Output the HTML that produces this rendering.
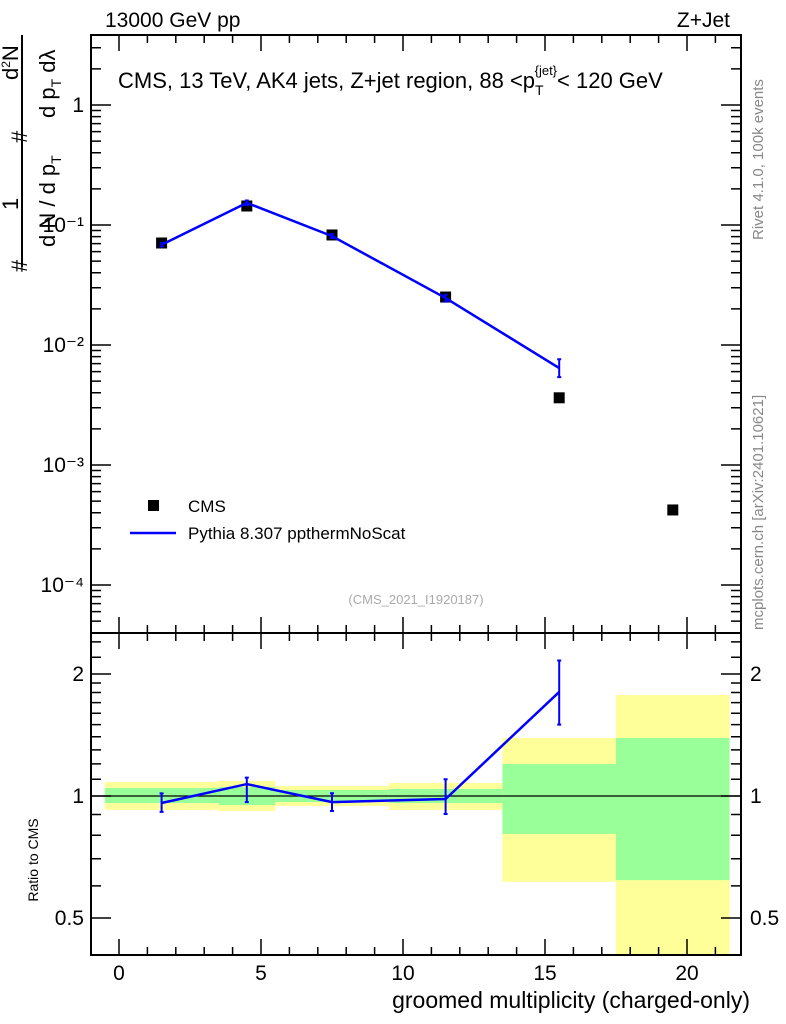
<!DOCTYPE html>
<html><head><meta charset="utf-8"><style>
body{margin:0;background:#fff;}
svg{display:block;font-family:"Liberation Sans",sans-serif;}
</style></head><body>
<svg id="c" width="786" height="1024" xmlns="http://www.w3.org/2000/svg">
<text x="105" y="27" font-size="21">13000 GeV pp</text>
<text x="730" y="27" font-size="21" text-anchor="end">Z+Jet</text>
<text x="118" y="88" font-size="22">CMS, 13 TeV, AK4 jets, Z+jet region, 88 &lt;p<tspan font-size="14" dy="7">T</tspan><tspan font-size="13" dy="-20" dx="-9">{jet}</tspan><tspan dy="13">&lt; 120 GeV</tspan></text>
<text transform="translate(763,240) rotate(-90)" font-size="15" fill="#888">Rivet 4.1.0,  100k events</text>
<text transform="translate(763,630) rotate(-90)" font-size="15" fill="#888">mcplots.cern.ch [arXiv:2401.10621]</text>
<text x="416" y="604" font-size="13" fill="#aaa" text-anchor="middle">(CMS_2021_I1920187)</text>
<g font-size="22">
<text transform="translate(27,272) rotate(-90)">#</text>
<text transform="translate(18,210) rotate(-90)">1</text>
<rect x="21" y="35" width="2" height="232" fill="#000"/>
<text transform="translate(55,247) rotate(-90)">d N / d p<tspan font-size="14" dy="6">T</tspan></text>
<text transform="translate(27,143) rotate(-90)">#</text>
<text transform="translate(18,80) rotate(-90)">d<tspan font-size="12" dy="-8">2</tspan><tspan dy="8">N</tspan></text>
<text transform="translate(55,118) rotate(-90)">d p<tspan font-size="14" dy="6">T</tspan><tspan dy="-6">  dλ</tspan></text>
</g>
<text transform="translate(38,860) rotate(-90)" font-size="14" text-anchor="middle">Ratio to CMS</text>
<text x="750" y="1008" font-size="23" text-anchor="end">groomed multiplicity (charged-only)</text>
<g id="bands"></g><g id="main"></g><g id="axes"></g>
<g>
<rect x="148" y="500" width="11" height="11" fill="#000"/>
<text x="188" y="512" font-size="17">CMS</text>
<line x1="130" y1="533" x2="176" y2="533" stroke="#00f" stroke-width="2.5"/>
<text x="188" y="539" font-size="17">Pythia 8.307 ppthermNoScat</text>
</g>
</svg>
<script>
const xCenters=[1.5,4.5,7.5,11.5,15.5,19.5];
const binEdges=[-0.5,3.5,5.5,9.5,13.5,17.5,21.5];
const cmsValues=[0.0708,0.144,0.0826,0.0251,0.00363,0.000422];
const mcValues=[0.0684,0.153,0.0808,0.0246,0.00643];
const mcErrLo=[0.0660,0.146,0.0780,0.0230,0.0054];
const mcErrHi=[0.0710,0.160,0.0840,0.0262,0.0076];
const ratioValues=[0.961,1.07,0.966,0.983,1.806];
const ratioErrLo=[0.914,0.966,0.918,0.903,1.50];
const ratioErrHi=[1.015,1.11,1.016,1.10,2.16];
const statLo=[0.961,0.950,0.966,0.961,0.806,0.62];
const statHi=[1.046,1.052,1.035,1.041,1.199,1.39];
const totLo=[0.924,0.918,0.945,0.924,0.614,0.40];
const totHi=[1.083,1.089,1.058,1.077,1.39,1.775];
const mainTicks=["1","10⁻¹","10⁻²","10⁻³","10⁻⁴"];
const ratioTicks=[2,1,0.5];
const xTicks=[0,5,10,15,20];
const NS="http://www.w3.org/2000/svg";
const L=91,R=741,T=35,MB=633,RB=955;
const X=v=>119+(v)*28.4;
const Y=v=>105-Math.log10(v)*120;
const YR=v=>796-Math.log2(v)*122;
function mk(p,t,a){const e=document.createElementNS(NS,t);for(const k in a)e.setAttribute(k,a[k]);document.getElementById(p).appendChild(e);return e;}
for(let i=0;i<6;i++){
 const x1=X(binEdges[i]),x2=X(binEdges[i+1]);
 const clip=v=>Math.max(MB,Math.min(RB,v));
 let e=mk('bands','rect',{x:x1,y:clip(YR(totHi[i])),width:x2-x1,height:clip(YR(totLo[i]))-clip(YR(totHi[i])),fill:'#ffff99'});
 
 
 e=mk('bands','rect',{x:x1,y:clip(YR(statHi[i])),width:x2-x1,height:clip(YR(statLo[i]))-clip(YR(statHi[i])),fill:'#99ff99'});
 
 
}
let e=mk('bands','line',{x1:L,x2:R,y1:YR(1),y2:YR(1),stroke:'#000','stroke-width':1.2});


cmsValues.forEach((v,i)=>{const m=mk('main','rect',{x:X(xCenters[i])-5.5,y:Y(v)-5.5,width:11,height:11,fill:'#000'});
 
 });
let pts=mcValues.map((v,i)=>X(xCenters[i])+','+Y(v)).join(' ');
e=mk('main','polyline',{points:pts,fill:'none',stroke:'#00f','stroke-width':2.5});


mcValues.forEach((v,i)=>{const x=X(xCenters[i]);const g=mk('main','path',{d:`M${x},${Y(mcErrLo[i])}V${Y(mcErrHi[i])}M${x-2},${Y(mcErrLo[i])}h4M${x-2},${Y(mcErrHi[i])}h4`,stroke:'#00f','stroke-width':2});
 
 });
pts=ratioValues.map((v,i)=>X(xCenters[i])+','+YR(v)).join(' ');
e=mk('main','polyline',{points:pts,fill:'none',stroke:'#00f','stroke-width':2.5});


ratioValues.forEach((v,i)=>{const x=X(xCenters[i]);const g=mk('main','path',{d:`M${x},${YR(ratioErrLo[i])}V${YR(ratioErrHi[i])}M${x-2},${YR(ratioErrLo[i])}h4M${x-2},${YR(ratioErrHi[i])}h4`,stroke:'#00f','stroke-width':2});
 
 });
e=mk('axes','rect',{x:L,y:T,width:R-L,height:MB-T,fill:'none',stroke:'#000','stroke-width':2});


e=mk('axes','rect',{x:L,y:MB,width:R-L,height:RB-MB,fill:'none',stroke:'#000','stroke-width':2});


let d='';
for(let v=-1;v<=22;v++){const x=X(v);if(x<=L||x>=R)continue;const major=v%5==0;const len=major?16:8;
 d+=`M${x},${MB}v${-len}M${x},${T}v${len}M${x},${RB}v${-len}M${x},${MB}v${len}`;}
for(let p=-5;p<=1;p++)for(let m=1;m<10;m++){const y=Y(m*Math.pow(10,p));if(y<=T||y>=MB)continue;const len=m==1?20:10;d+=`M${L},${y}h${len}M${R},${y}h${-len}`;}
[0.4,0.5,0.6,0.7,0.8,0.9,1,1.1,1.2,1.3,1.4,1.5,1.6,1.7,1.8,1.9,2,2.2,2.4].forEach(v=>{const y=YR(v);if(y<=MB||y>=RB)return;const len=(v==0.5||v==1||v==2)?20:10;d+=`M${L},${y}h${len}M${R},${y}h${-len}`;});
e=mk('axes','path',{d:d,stroke:'#000','stroke-width':1.5,fill:'none'});


mainTicks.forEach((t,i)=>{const tx=mk('axes','text',{x:84,y:Y(Math.pow(10,-i))+7,'font-size':21,'text-anchor':'end'});tx.textContent=t;
 
 });
ratioTicks.forEach(v=>{[[84,'end'],[750,'start']].forEach(([x,a])=>{const tx=mk('axes','text',{x:x,y:YR(v)+7,'font-size':21,'text-anchor':a});tx.textContent=v;
 
 });});
xTicks.forEach(v=>{const tx=mk('axes','text',{x:X(v),y:980,'font-size':21,'text-anchor':'middle'});tx.textContent=v;
 
 });
</script>
</body></html>
